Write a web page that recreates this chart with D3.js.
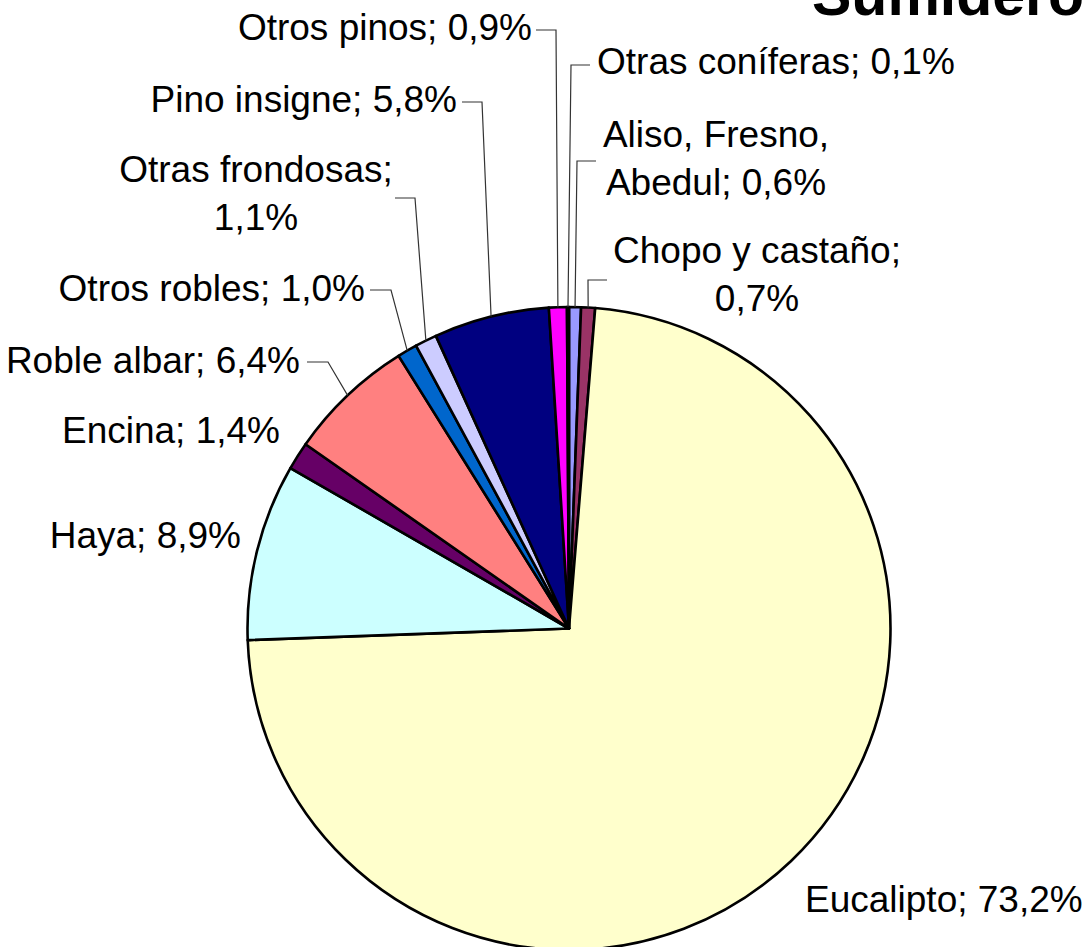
<!DOCTYPE html>
<html><head><meta charset="utf-8">
<script src="https://cdn.jsdelivr.net/npm/d3@7"></script>
<style>body{margin:0;background:#fff;overflow:hidden}</style>
</head><body><svg id="c" width="1086" height="947"></svg>
<script>
// ---- data ----
const categories = ["Aliso, Fresno, Abedul","Chopo y castaño","Eucalipto","Haya","Encina","Roble albar","Otros robles","Otras frondosas","Pino insigne","Otros pinos","Otras coníferas"];
const values = [0.6, 0.7, 73.2, 8.9, 1.4, 6.4, 1.0, 1.1, 5.8, 0.9, 0.1];
const titleText = "Sumidero";

// ---- styles ----
const colors = ["#9999FF","#993366","#FFFFCC","#CCFFFF","#660066","#FF8080","#0066CC","#CCCCFF","#000080","#FF00FF","#FFFF00"];
// label layout (manually placed labels, as in the original)
const labelLayout = [
  {x:716, y:147, anchor:"middle", wrapAfter:"Fresno,", leader:[596,577,161]},
  {x:757, y:263, anchor:"middle", wrapAfter:";", leader:[607,588,280]},
  {x:805, y:912, anchor:"start"},
  {x:241, y:548, anchor:"end"},
  {x:280, y:443, anchor:"end"},
  {x:300, y:373, anchor:"end", leader:[307,328,362]},
  {x:365, y:301, anchor:"end", leader:[370,391,290]},
  {x:256, y:182, anchor:"middle", wrapAfter:";", leader:[395,415,198]},
  {x:457, y:112, anchor:"end", leader:[462,482,102]},
  {x:532, y:40, anchor:"end", leader:[536,556,30]},
  {x:597, y:74, anchor:"start", leader:[590,571,65]}
];

const W = 1086, H = 947;
const cx = 569, cy = 628.5, R = 321.5;
const FONT = "'Liberation Sans', Arial, Helvetica, sans-serif";

const svg = d3.select("#c");
svg.append("rect").attr("width", W).attr("height", H).attr("fill", "#fff");

const fmt = v => d3.format(".1f")(v).replace(".", ",") + "%";

const pie = d3.pie().sort(null).value(d => d.value).startAngle(0).endAngle(2 * Math.PI);
const data = categories.map((c, i) => ({cat: c, value: values[i], color: colors[i], layout: labelLayout[i]}));
const arcs = pie(data);

const arc = d3.arc().innerRadius(0).outerRadius(R);

const g = svg.append("g").attr("transform", `translate(${cx},${cy})`);
g.selectAll("path.slice").data(arcs).enter().append("path")
  .attr("class", "slice")
  .attr("d", arc)
  .attr("fill", d => d.data.color)
  .attr("stroke", "#000")
  .attr("stroke-width", 2.6)
  .attr("stroke-linejoin", "round");

// leader lines
const leaders = svg.append("g");
arcs.forEach(a => {
  const L = a.data.layout.leader;
  if (!L) return;
  const mid = (a.startAngle + a.endAngle) / 2;
  const px = cx + R * Math.sin(mid), py = cy - R * Math.cos(mid);
  leaders.append("path")
    .attr("d", d3.line()([[L[0], L[2]], [L[1], L[2]], [px, py]]))
    .attr("fill", "none").attr("stroke", "#333").attr("stroke-width", 1.2);
});

// labels
const labels = svg.append("g").attr("font-family", FONT).attr("font-size", 37).attr("fill", "#000");
arcs.forEach(a => {
  const lay = a.data.layout;
  const full = a.data.cat + "; " + fmt(a.data.value);
  let lines = [full];
  if (lay.wrapAfter) {
    const k = full.indexOf(lay.wrapAfter) + lay.wrapAfter.length;
    lines = [full.slice(0, k).trim(), full.slice(k).trim()];
  }
  const t = labels.append("text").attr("text-anchor", lay.anchor);
  lines.forEach((ln, j) => {
    t.append("tspan").attr("x", lay.x).attr("y", lay.y + j * 48).text(ln);
  });
});

// title (partly outside the frame, as in the original)
svg.append("text")
  .attr("x", 812).attr("y", 15)
  .attr("font-family", FONT).attr("font-weight", "bold").attr("font-size", 59)
  .text(titleText);
</script>
</body></html>
